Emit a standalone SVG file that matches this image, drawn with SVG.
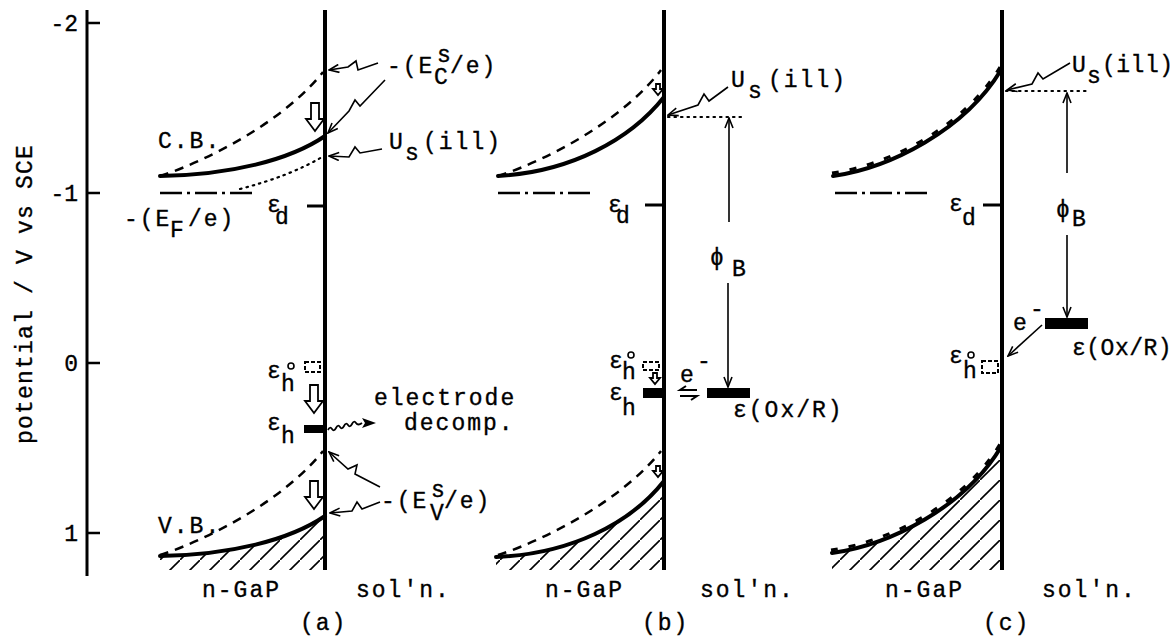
<svg xmlns="http://www.w3.org/2000/svg" width="1176" height="639" viewBox="0 0 1176 639">
<style>
.t{font-family:"Liberation Mono","DejaVu Sans Mono",monospace;font-size:23px;letter-spacing:2px;fill:#000;stroke:#000;stroke-width:0.35}
.n{font-family:"Liberation Mono","DejaVu Sans Mono",monospace;font-size:23px;fill:#000;stroke:#000;stroke-width:0.35}
.tight{letter-spacing:0.5px}
.ln{stroke:#000;fill:none}
.iface{stroke:#000;stroke-width:4;fill:none}
.sol{stroke:#000;stroke-width:4;fill:none;stroke-linecap:round}
.dsh{stroke:#000;stroke-width:2.5;fill:none;stroke-dasharray:9,7}
.dot{stroke:#000;stroke-width:2.2;fill:none;stroke-dasharray:1.5,5;stroke-linecap:round}
.dd{stroke:#000;stroke-width:2.5;fill:none;stroke-dasharray:22,5,3,5}
.bar{stroke:#000;stroke-width:3;fill:none}
.drect{stroke:#000;stroke-width:2;fill:#fff;stroke-dasharray:4,2}
.arr{stroke:#000;stroke-width:1.6;fill:none;marker-end:url(#ah)}
.blk{stroke:#000;stroke-width:1.8;fill:#fff}
.deg{fill:none;stroke:#000;stroke-width:1.6}
</style>
<defs>
<marker id="ah" viewBox="0 0 12 10" refX="11" refY="5" markerWidth="12" markerHeight="10" markerUnits="userSpaceOnUse" orient="auto"><path d="M1,1 L11,5 L1,9" fill="none" stroke="#000" stroke-width="1.6"/></marker>
<pattern id="hatch" patternUnits="userSpaceOnUse" width="20" height="20"><path d="M-2,22 L22,-2" stroke="#000" stroke-width="1.6"/></pattern>
<path id="blk" d="M-4,0 h8 v16 h5 l-9,12 l-9,-12 h5 z"/>
<path id="tiny" d="M-2,0 h4 v5 h3 l-5,6 l-5,-6 h3 z"/>
</defs>
<rect width="1176" height="639" fill="#fff"/>

<g id="axis">
<line x1="87" y1="10" x2="87" y2="576" stroke="#000" stroke-width="3"/>
<path d="M87,23 H100 M87,193 H100 M87,363 H100 M87,533 H100" class="ln" stroke-width="2.5"/>
<text class="n" x="78" y="31" text-anchor="end">-2</text>
<text class="n" x="78" y="201" text-anchor="end">-1</text>
<text class="n" x="78" y="371" text-anchor="end">0</text>
<text class="n" x="78" y="541" text-anchor="end">1</text>
<text class="t" style="letter-spacing:1.2px" transform="translate(32,294) rotate(-90)" text-anchor="middle">potential / V vs SCE</text>
</g>

<g id="panel-a">
<path class="sol" d="M160,176 C230,175 290,160 325,136"/>
<path class="dsh" d="M160,176 C210,160 285,120 323,72"/>
<path class="dot" d="M240,189 Q290,176 322,157"/>
<path class="dd" d="M160,193 H256"/>
<line class="bar" x1="307" y1="206" x2="325" y2="206"/>
<path d="M160,556 C230,555 290,540 325,516 L325,570 L160,570 Z" fill="url(#hatch)"/>
<path class="sol" d="M160,556 C230,555 290,540 325,516"/>
<path class="dsh" d="M160,555 C210,539 285,499 323,451"/>
<rect class="drect" x="305" y="362" width="15" height="10"/>
<rect x="304" y="425" width="21" height="8" fill="#000"/>
<use href="#blk" x="315" y="103" class="blk"/>
<use href="#blk" x="314" y="385" class="blk"/>
<use href="#blk" x="314" y="481" class="blk"/>
<line class="iface" x1="325" y1="10" x2="325" y2="570"/>
<text class="t" x="158" y="148">C.B.</text>
<text class="t" x="124" y="226">-(E<tspan x="170" y="237">F</tspan><tspan x="188" y="226">/e)</tspan></text>
<text class="t" x="267" y="212">ε<tspan x="275" y="224">d</tspan></text>
<text class="t" x="387" y="73">-(E<tspan x="437" y="62">s</tspan><tspan x="434" y="84">C</tspan><tspan x="450" y="73">/e)</tspan></text>
<text class="t" x="389" y="149">U<tspan x="405" y="160">s</tspan><tspan x="423" y="149">(ill)</tspan></text>
<text class="t" x="267" y="378">ε<tspan x="281" y="391">h</tspan></text><circle class="deg" cx="291" cy="366" r="3"/>
<text class="t" x="267" y="430">ε<tspan x="281" y="443">h</tspan></text>
<text class="t" x="374" y="405">electrode</text>
<text class="t" x="404" y="430">decomp.</text>
<text class="t" x="381" y="508">-(E<tspan x="431" y="497">s</tspan><tspan x="430" y="520">V</tspan><tspan x="444" y="508">/e)</tspan></text>
<text class="t" x="158" y="533">V.B.</text>
<text class="t" x="202" y="597">n-GaP</text>
<text class="t" x="356" y="597">sol'n.</text>
<text class="t" x="300" y="630">(a)</text>
</g>

<g id="panel-b">
<path class="sol" d="M498,176 C570,172 630,140 664,97"/>
<path class="dsh" d="M498,176 C548,160 623,120 661,70"/>
<path class="dot" d="M668,117 H745"/>
<path class="dd" d="M498,193 H593"/>
<line class="bar" x1="645" y1="205" x2="664" y2="205"/>
<use href="#tiny" x="658" y="84" class="blk"/>
<path d="M496,557 C570,554 630,524 664,481 L664,570 L496,570 Z" fill="url(#hatch)"/>
<path class="sol" d="M496,557 C570,554 630,524 664,481"/>
<path class="dsh" d="M498,555 C548,539 623,499 661,451"/>
<use href="#tiny" x="658" y="466" class="blk"/>
<rect class="drect" x="643" y="362" width="16" height="8"/>
<use href="#tiny" x="655" y="373" class="blk"/>
<rect x="643" y="388" width="21" height="10" fill="#000"/>
<rect x="707" y="388" width="43" height="10" fill="#000"/>
<line class="iface" x1="664" y1="10" x2="664" y2="570"/>
<text class="t" x="731" y="87">U<tspan x="748" y="98">s</tspan><tspan x="768" y="87">(ill)</tspan></text>
<text class="t" x="608" y="212">ε<tspan x="616" y="223">d</tspan></text>
<text class="t" x="710" y="265">ϕ<tspan x="732" y="276">B</tspan></text>
<text class="t" x="609" y="368">ε<tspan x="622" y="379">h</tspan></text><circle class="deg" cx="631" cy="355" r="3"/>
<text class="t" x="609" y="400">ε<tspan x="622" y="415">h</tspan></text>
<text class="t" x="680" y="382">e<tspan x="697" y="368">-</tspan></text>
<text class="t" x="733" y="417">ε(Ox/R)</text>
<text class="t" x="545" y="597">n-GaP</text>
<text class="t" x="700" y="597">sol'n.</text>
<text class="t" x="642" y="630">(b)</text>
</g>

<g id="panel-c">
<path class="sol" d="M833,176 C890,168 965,130 1001,70"/>
<path class="dsh" d="M833,176 C890,168 965,130 1001,70" transform="translate(-1,-3)" style="stroke-dasharray:7,11;stroke-width:3"/>
<path class="dot" d="M1006,91 H1088"/>
<path class="dd" d="M835,193 H930"/>
<line class="bar" x1="983" y1="205" x2="1002" y2="205"/>
<path d="M832,553 C890,545 965,507 1001,447 L1002,570 L832,570 Z" fill="url(#hatch)"/>
<path class="sol" d="M832,553 C890,545 965,507 1001,447"/>
<path class="dsh" d="M832,553 C890,545 965,507 1001,447" transform="translate(-1,-3)" style="stroke-dasharray:7,11;stroke-width:3"/>
<rect class="drect" x="982" y="361" width="16" height="12"/>
<rect x="1045" y="318" width="43" height="11" fill="#000"/>
<line class="iface" x1="1002" y1="10" x2="1002" y2="570"/>
<text class="t tight" x="1072" y="72">U<tspan x="1087" y="83">s</tspan><tspan x="1102" y="72">(ill)</tspan></text>
<text class="t" x="949" y="211">ε<tspan x="962" y="225">d</tspan></text>
<text class="t" x="1056" y="217">ϕ<tspan x="1072" y="226">B</tspan></text>
<text class="t" x="1013" y="330">e<tspan x="1030" y="316">-</tspan></text>
<text class="t tight" x="1072" y="355">ε(Ox/R)</text>
<text class="t" x="949" y="363">ε<tspan x="963" y="378">h</tspan></text><circle class="deg" cx="971" cy="355" r="3"/>
<text class="t" x="885" y="597">n-GaP</text>
<text class="t" x="1042" y="597">sol'n.</text>
<text class="t" x="983" y="630">(c)</text>
</g>

<g id="connectors">
<polyline class="arr" points="378,63 358,70 356,61 348,67 329,70"/>
<polyline class="arr" points="385,80 360,106 355,100 349,111 328,133"/>
<polyline class="arr" points="382,149 360,153 355,147 349,157 329,156"/>
<polyline class="arr" points="380,487 355,474 357,465 348,469 329,452"/>
<polyline class="arr" points="380,502 362,509 357,502 352,511 330,513"/>
<path d="M328,430 Q330,426 332,429 T336,428 T340,427 T344,426 T348,425 T352,424 T356,423 T362,423" class="ln" stroke-width="1.8"/>
<path d="M362,418 L376,423 L362,428 L365,423 Z" fill="#000"/>
<polyline class="arr" points="728,87 709,101 704,94 698,105 668,115"/>
<path class="arr" d="M729,222 V118"/>
<path class="arr" d="M728,283 V387"/>
<path d="M697,390 H680 l6,-4 M680,396 H697 l-6,4" class="ln" stroke-width="2"/>
<polyline class="arr" points="1070,63 1043,79 1038,73 1032,84 1007,90"/>
<path class="arr" d="M1067,173 V93"/>
<path class="arr" d="M1067,235 V317"/>
<path class="arr" d="M1042,325 L1008,356"/>
</g>
</svg>
